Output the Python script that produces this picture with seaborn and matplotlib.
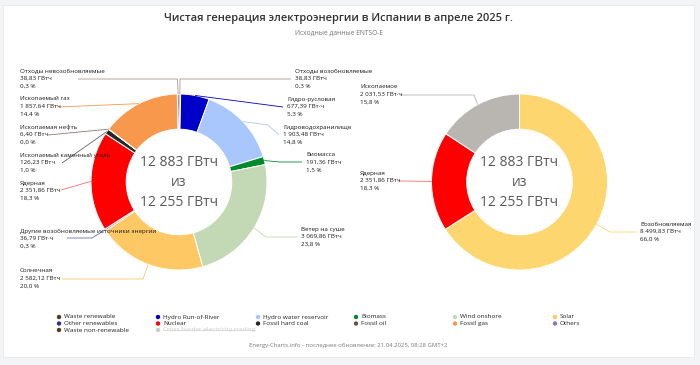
#!/usr/bin/env python

import numpy as np
import matplotlib
matplotlib.use("Agg")
import matplotlib.pyplot as plt
from matplotlib.patches import Rectangle
import seaborn as sns

# --- data -------------------------------------------------------------
sources = ["Waste renewable", "Hydro Run-of-River", "Hydro water reservoir", "Biomass",
           "Wind onshore", "Solar", "Other renewables", "Nuclear", "Fossil hard coal",
           "Fossil oil", "Fossil gas", "Waste non-renewable"]
source_labels = ["Отходы возобновляемые", "Гидро-русловая", "Гидроводохранилище", "Биомасса",
                 "Ветер на суше", "Солнечная", "Другие возобновляемые источники энергии",
                 "Ядерная", "Ископаемый каменный уголь", "Ископаемая нефть",
                 "Ископаемый газ", "Отходы невозобновляемые"]
source_gwh = [38.83, 677.39, 1903.48, 191.36, 3069.86, 2582.12, 36.79, 2351.86,
              126.23, 6.40, 1857.64, 38.83]
source_units = ["ГВтч", "ГВт·ч", "ГВтч", "ГВтч", "ГВтч", "ГВтч", "ГВт·ч", "ГВтч",
                "ГВтч", "ГВтч", "ГВтч", "ГВтч"]

groups = ["Renewable", "Nuclear", "Fossil"]
group_labels = ["Возобновляемая", "Ядерная", "Ископаемое"]
group_gwh = [8499.83, 2351.86, 2031.53]
group_units = ["ГВтч", "ГВтч", "ГВт·ч"]

center_lines = ["12 883 ГВтч", "из", "12 255 ГВтч"]

legend_items = ["Waste renewable", "Other renewables", "Waste non-renewable",
                "Hydro Run-of-River", "Nuclear", "Cross border electricity trading",
                "Hydro water reservoir", "Fossil hard coal", "Biomass", "Fossil oil",
                "Wind onshore", "Fossil gas", "Solar", "Others"]

colors = {
    "Waste renewable": "#5c3a17", "Hydro Run-of-River": "#0000c8",
    "Hydro water reservoir": "#aac7fd", "Biomass": "#008a2e",
    "Wind onshore": "#c3d9b5", "Solar": "#fec864", "Other renewables": "#2e2e96",
    "Nuclear": "#ff0000", "Fossil hard coal": "#262626", "Fossil oil": "#6e5444",
    "Fossil gas": "#f8984d", "Waste non-renewable": "#5c3a17",
    "Cross border electricity trading": "#cccccc", "Others": "#8c76b6",
    "Renewable": "#fed670", "Fossil": "#b9b5b1",
}
line_colors = {"Waste renewable": "#a89a8c", "Waste non-renewable": "#a89a8c",
               "Fossil hard coal": "#666666", "Fossil oil": "#8a7a70",
               "Other renewables": "#6a6ab4", "Nuclear": "#ff7070"}

# --- layout (pixels, origin top-left) ---------------------------------
W, H = 700, 365
left_c, right_c, R = (179, 182), (519.5, 182), 88

# text anchor (x, y of first line) and connector path from text to wedge
left_layout = {
    "Waste non-renewable": (20, 71, [(78, 79), (177.5, 79)]),
    "Fossil gas": (20, 99, [(58, 107)]),
    "Fossil oil": (20, 127, [(48, 135)]),
    "Fossil hard coal": (20, 155, [(62, 163)]),
    "Nuclear": (20, 183, [(61, 190)]),
    "Other renewables": (20, 231, [(67, 238), (92, 238)]),
    "Solar": (20, 271, [(62, 279), (143, 279)]),
    "Waste renewable": (295, 71, [(291, 79), (180, 79)]),
    "Hydro Run-of-River": (287, 99, [(283, 107)]),
    "Hydro water reservoir": (283, 127, [(279, 135), (268, 125)]),
    "Biomass": (306, 155, [(302, 162), (280, 162)]),
    "Wind onshore": (301, 229, [(298, 237), (266, 237)]),
}
right_layout = {
    "Fossil": (360, 87, [(400, 95), (474, 95)]),
    "Nuclear": (360, 173, [(398, 181)]),
    "Renewable": (640, 224, [(637, 232), (610, 232)]),
}


def fmt(v):
    return f"{v:,.2f}".replace(",", " ").replace(".", ",")


def fig_rect(c, r):
    return [(c[0] - r) / W, 1 - (c[1] + r) / H, 2 * r / W, 2 * r / H]


sns.set_theme(style="white")
plt.rcParams["font.family"] = ["Open Sans", "DejaVu Sans"]

fig = plt.figure(figsize=(W / 100, H / 100), dpi=100, facecolor="#f3f4f6")

bg = fig.add_axes([0, 0, 1, 1], zorder=0)
bg.set_xlim(0, W)
bg.set_ylim(H, 0)
bg.axis("off")
bg.add_patch(Rectangle((3, 5), 691, 352, facecolor="white", edgecolor="#e8e9ec", lw=0.6))

over = fig.add_axes([0, 0, 1, 1], zorder=5)
over.set_xlim(0, W)
over.set_ylim(H, 0)
over.axis("off")
over.patch.set_alpha(0)


def donut(center, keys, values, labels, units, layout):
    ax = fig.add_axes(fig_rect(center, R), zorder=2)
    wedges, _ = ax.pie(values, colors=[colors[k] for k in keys], startangle=90,
                       counterclock=False, radius=1,
                       wedgeprops=dict(width=0.4, edgecolor="white", linewidth=0.7))
    ax.set_xlim(-1, 1)
    ax.set_ylim(-1, 1)
    ax.axis("off")
    total = sum(values)
    for w, k, v, lab, u in zip(wedges, keys, values, labels, units):
        tx, ty, path = layout[k]
        mid = np.deg2rad((w.theta1 + w.theta2) / 2)
        anchor = (center[0] + R * np.cos(mid), center[1] - R * np.sin(mid))
        pts = path + [anchor]
        over.plot([p[0] for p in pts], [p[1] for p in pts],
                  color=line_colors.get(k, colors[k]), lw=0.6, solid_capstyle="butt")
        rows = [lab, f"{fmt(v)} {u}", f"{v / total * 100:.1f} %".replace(".", ",")]
        for i, row in enumerate(rows):
            over.text(tx, ty + i * 7.7, row, fontsize=4.5, color="#1a1a1a",
                      va="center", ha="left")
    for i, line in enumerate(center_lines):
        over.text(center[0], center[1] - 20 + i * 20, line, fontsize=10,
                  color="#5a5a5a", ha="center", va="center")


donut(left_c, sources, source_gwh, source_labels, source_units, left_layout)
donut(right_c, groups, group_gwh, group_labels, group_units, right_layout)

# titles
over.text(339, 18, "Чистая генерация электроэнергии в Испании в апреле 2025 г.",
          fontsize=8, color="#333333", ha="center", va="center", fontweight="semibold")
over.text(339, 33, "Исходные данные ENTSO-E", fontsize=4.8, color="#777777",
          ha="center", va="center")
over.text(348, 345, "Energy-Charts.info - последнее обновление: 21.04.2025, 08:28 GMT+2",
          fontsize=4.3, color="#777777", ha="center", va="center")

# legend (column-major, 3 rows in first two columns, 2 rows in the rest)
col_x = [59, 158, 258, 356, 455, 555]
row_y = [317, 323.5, 330]
slots = [(0, 0), (0, 1), (0, 2), (1, 0), (1, 1), (1, 2),
         (2, 0), (2, 1), (3, 0), (3, 1), (4, 0), (4, 1), (5, 0), (5, 1)]
for name, (c, r) in zip(legend_items, slots):
    x, y = col_x[c], row_y[r]
    over.scatter([x], [y], s=10, color=colors[name], edgecolor="none")
    muted = name.startswith("Cross")
    t = over.text(x + 5, y, name, fontsize=4.6, va="center", ha="left",
                  color="#cccccc" if muted else "#222222")
    if muted:
        fig.canvas.draw()
        bb = t.get_window_extent().transformed(over.transData.inverted())
        over.plot([bb.x0, bb.x1], [y + 0.3, y + 0.3], color="#cccccc", lw=0.5)

fig.savefig("out.png", dpi=100, facecolor=fig.get_facecolor())
